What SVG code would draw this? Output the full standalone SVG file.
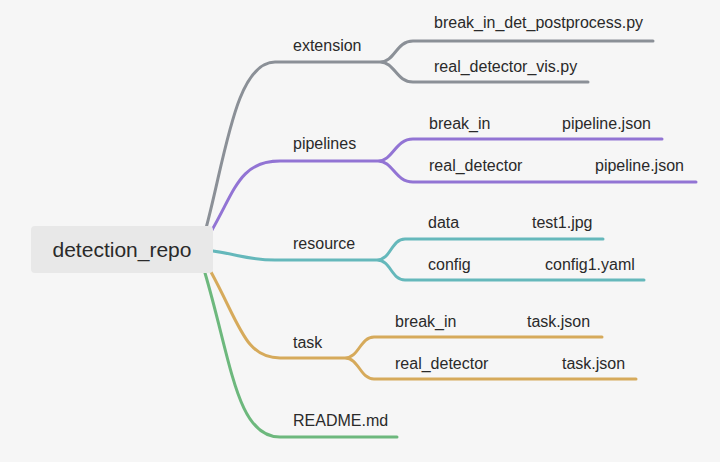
<svg xmlns="http://www.w3.org/2000/svg" width="720" height="462" viewBox="0 0 720 462">
<style>
.bg{fill:#f6f6f6}
.l{fill:none;stroke-width:3;stroke-linecap:round;stroke-linejoin:round}
.gray{stroke:#8b9097}.purple{stroke:#9274d4}.teal{stroke:#65b8bb}.gold{stroke:#d6aa5b}.green{stroke:#6db87d}
text{font-family:"Liberation Sans",Arial,sans-serif;font-size:16px;fill:#2a2a2a}
.root{font-size:21px}
</style>
<rect class="bg" x="0" y="0" width="720" height="462"/>
<g id="connectors">
<path class="l gray" d="M205 232 C225 160,235 62,275 62 H380 C395 62,396 41,413 41 H653 M380 62 C395 62,396 82,413 82 H588"/>
<path class="l purple" d="M212 230 C235 190,240 161,280 161 H378 C393 161,395 139,413 139 H662 M378 161 C393 161,395 182,413 182 H696"/>
<path class="l teal" d="M213 251 C240 255,250 260,275 260 H377 C391 260,391 239,405 239 H603 M377 260 C391 260,391 280,405 280 H644"/>
<path class="l gold" d="M211 272 C240 325,245 358,280 358 H345 C359 358,360 337,374 337 H602 M345 358 C359 358,360 379,374 379 H636"/>
<path class="l green" d="M205 273 C232 365,237 437,280 437 H397"/>
</g>
<g id="root">
<rect x="31" y="226" width="182" height="47" rx="4" fill="#e8e8e8"/>
<text class="root" x="122" y="257" text-anchor="middle">detection_repo</text>
</g>
<g id="extension">
<text x="293" y="51">extension</text>
<text x="434" y="28">break_in_det_postprocess.py</text>
<text x="434" y="72">real_detector_vis.py</text>
</g>
<g id="pipelines">
<text x="293" y="149">pipelines</text>
<text x="429" y="129">break_in</text>
<text x="562" y="129">pipeline.json</text>
<text x="429" y="171">real_detector</text>
<text x="595" y="171">pipeline.json</text>
</g>
<g id="resource">
<text x="293" y="249">resource</text>
<text x="428" y="228">data</text>
<text x="532" y="228">test1.jpg</text>
<text x="428" y="270">config</text>
<text x="545" y="270">config1.yaml</text>
</g>
<g id="task">
<text x="293" y="348">task</text>
<text x="395" y="327">break_in</text>
<text x="527" y="327">task.json</text>
<text x="395" y="369">real_detector</text>
<text x="562" y="369">task.json</text>
</g>
<g id="readme">
<text x="293" y="426">README.md</text>
</g>
</svg>
